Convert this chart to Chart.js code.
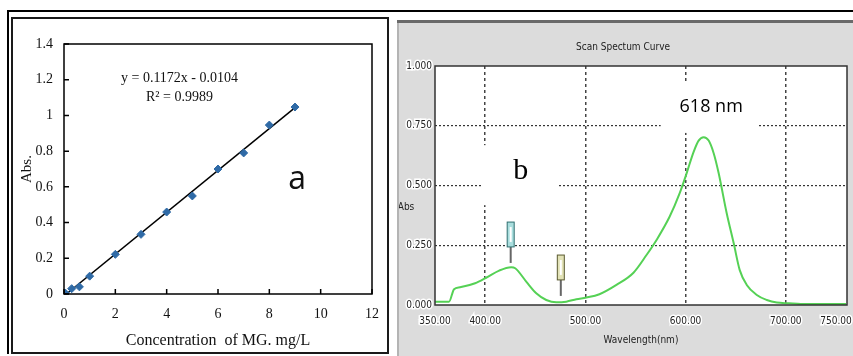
<!DOCTYPE html>
<html>
<head>
<meta charset="utf-8">
<script src="https://cdn.jsdelivr.net/npm/chart.js@4.4.1/dist/chart.umd.min.js"></script>
<style>
  body { margin: 0; width: 853px; height: 356px; background: #fff; position: relative; overflow: hidden; }
  .ln { position: absolute; }
  canvas { position: absolute; }
</style>
</head>
<body>
<div class="ln" style="left:7px;top:10px;width:846px;height:2px;background:#000"></div>
<div class="ln" style="left:7px;top:10px;width:2px;height:344px;background:#000"></div>
<div class="ln" style="left:11px;top:17px;width:378px;height:337px;border:2px solid #1a1a1a;box-sizing:border-box"></div>
<div class="ln" style="left:397px;top:20px;width:2px;height:336px;background:#b4b4b4"></div>
<div class="ln" style="left:397px;top:20px;width:456px;height:3px;background:#6a6a6a"></div>
<canvas id="calChart" width="374" height="333" style="left:13px;top:19px"></canvas>
<canvas id="scanChart" width="454" height="333" style="left:399px;top:23px;background:#dcdcdc"></canvas>
<script>
  // (a) calibration curve
  const concValues = [0, 0.05, 0.3, 0.6, 1, 2, 3, 4, 5, 6, 7, 8, 9];
  const absValues = [0, 0.005, 0.03, 0.04, 0.10, 0.222, 0.334, 0.459, 0.549, 0.70, 0.79, 0.946, 1.047];
  const trendX = [0.09, 9];
  const trendY = [0, 1.044];
  const equationText = "y = 0.1172x - 0.0104";
  const r2Text = "R\u00b2 = 0.9989";

  // (b) scan spectrum
  const waveNm = [350, 364, 369, 375, 390, 401, 414, 426, 430, 441, 451, 461, 471, 481, 491, 501,
    514, 531, 548, 561, 571, 584, 594, 601, 608, 613, 618, 623, 628, 633, 641, 648, 654, 661, 671,
    681, 691, 703, 715, 760];
  const scanAbs = [0.014, 0.014, 0.066, 0.074, 0.091, 0.114, 0.144, 0.158, 0.154, 0.098, 0.049,
    0.021, 0.011, 0.014, 0.024, 0.031, 0.045, 0.084, 0.135, 0.209, 0.272, 0.369, 0.467, 0.551,
    0.641, 0.688, 0.702, 0.688, 0.635, 0.551, 0.384, 0.258, 0.146, 0.084, 0.042, 0.021, 0.010,
    0.007, 0.004, 0.004];
  const waveTicks = [350, 400, 500, 600, 700, 750];
  const peakMarkers = [
    { nm: 425.5, top: 0.347, bottom: 0.243, end: 0.176, fill: "#a9dede", edge: "#2f6f70" },
    { nm: 475.5, top: 0.209, bottom: 0.105, end: 0.038, fill: "#e2e2b6", edge: "#5a5a30" }
  ];

  const serif = "'Liberation Serif', 'Times New Roman', serif";
  const narrow = "'Liberation Sans Narrow', 'DejaVu Sans Condensed', sans-serif";

  // keep the plot area where the layout padding puts it
  const noEdgePad = s => { s.paddingLeft = 0; s.paddingRight = 0; s.paddingTop = 0; s.paddingBottom = 0; };

  const calPlugin = {
    id: "calPlugin",
    afterDraw(chart) {
      const { ctx, chartArea: a, scales: { x, y } } = chart;
      ctx.save();
      ctx.strokeStyle = "#000";
      ctx.lineWidth = 1.5;
      ctx.strokeRect(a.left, a.top, a.right - a.left, a.bottom - a.top);
      ctx.beginPath();
      x.ticks.forEach(t => {
        const px = x.getPixelForValue(t.value);
        ctx.moveTo(px, a.bottom); ctx.lineTo(px, a.bottom - 5);
      });
      y.ticks.forEach(t => {
        const py = y.getPixelForValue(t.value);
        ctx.moveTo(a.left, py); ctx.lineTo(a.left + 5, py);
      });
      ctx.stroke();
      ctx.fillStyle = "#111";
      ctx.textAlign = "center";
      ctx.textBaseline = "middle";
      ctx.font = "14px " + serif;
      ctx.fillText(equationText, x.getPixelForValue(4.5), y.getPixelForValue(1.21));
      ctx.fillText(r2Text, x.getPixelForValue(4.5), y.getPixelForValue(1.103));
      ctx.font = "32px 'Open Sans', sans-serif";
      ctx.fillText("a", x.getPixelForValue(9.08), y.getPixelForValue(0.64));
      ctx.restore();
    }
  };

  new Chart(document.getElementById("calChart"), {
    type: "scatter",
    data: {
      datasets: [
        {
          data: concValues.map((c, i) => ({ x: c, y: absValues[i] })),
          pointStyle: "rectRot",
          pointRadius: 4,
          backgroundColor: "#2f6aa6",
          borderColor: "#2f6aa6"
        },
        {
          type: "line",
          data: trendX.map((c, i) => ({ x: c, y: trendY[i] })),
          borderColor: "#000",
          borderWidth: 1.5,
          pointRadius: 0
        }
      ]
    },
    options: {
      responsive: false,
      animation: false,
      layout: { padding: { top: 25, right: 15, left: 0, bottom: 0 } },
      plugins: { legend: { display: false }, tooltip: { enabled: false } },
      scales: {
        x: {
          min: 0, max: 12,
          ticks: { stepSize: 2, padding: 12, color: "#111", font: { family: serif, size: 14 } },
          grid: { display: false, drawTicks: false },
          border: { display: false },
          title: { display: true, text: "Concentration  of MG. mg/L", color: "#111",
            font: { family: serif, size: 16 }, padding: { top: 0, bottom: 2 } },
          afterFit: s => { s.height = 58; noEdgePad(s); }
        },
        y: {
          min: 0, max: 1.4,
          ticks: { stepSize: 0.2, padding: 11, color: "#111", font: { family: serif, size: 14 },
            callback: v => String(Number(v.toFixed(1))) },
          grid: { display: false, drawTicks: false },
          border: { display: false },
          title: { display: true, text: "Abs.", color: "#111",
            font: { family: serif, size: 15 }, padding: { top: 5, bottom: 0 } },
          afterFit: s => { s.width = 51; noEdgePad(s); }
        }
      }
    },
    plugins: [calPlugin]
  });

  const scanPlugin = {
    id: "scanPlugin",
    beforeDraw(chart) {
      const { ctx, chartArea: a } = chart;
      ctx.save();
      ctx.fillStyle = "#fff";
      ctx.fillRect(a.left, a.top, a.right - a.left, a.bottom - a.top);
      ctx.restore();
    },
    beforeDatasetsDraw(chart) {
      const { ctx, scales: { x, y } } = chart;
      ctx.save();
      ctx.fillStyle = "#fff";
      let cx = x.getPixelForValue(435.5), cy = y.getPixelForValue(0.56);
      ctx.fillRect(cx - 38, cy - 26, 76, 60);
      cx = x.getPixelForValue(623); cy = y.getPixelForValue(0.833);
      ctx.fillRect(cx - 48, cy - 24, 97, 51);
      ctx.restore();
    },
    afterDatasetsDraw(chart) {
      const { ctx, chartArea: a, scales: { x, y } } = chart;
      ctx.save();
      peakMarkers.forEach(m => {
        const px = x.getPixelForValue(m.nm);
        const t = y.getPixelForValue(m.top), b = y.getPixelForValue(m.bottom), e = y.getPixelForValue(m.end);
        ctx.strokeStyle = "#666";
        ctx.lineWidth = 2;
        ctx.beginPath(); ctx.moveTo(px, b); ctx.lineTo(px, e); ctx.stroke();
        ctx.fillStyle = m.fill;
        ctx.fillRect(px - 3.5, t, 7, b - t);
        ctx.strokeStyle = m.edge;
        ctx.lineWidth = 1;
        ctx.strokeRect(px - 3.5, t, 7, b - t);
        ctx.fillStyle = "#fff";
        ctx.fillRect(px - 1, t + 5, 2, b - t - 10);
      });
      ctx.strokeStyle = "#333";
      ctx.lineWidth = 1.5;
      ctx.strokeRect(a.left, a.top, a.right - a.left, a.bottom - a.top);
      ctx.fillStyle = "#000";
      ctx.textAlign = "center";
      ctx.textBaseline = "middle";
      ctx.font = "30px " + serif;
      ctx.fillText("b", x.getPixelForValue(435.5), y.getPixelForValue(0.56));
      ctx.font = "18px 'Open Sans', sans-serif";
      ctx.fillText("618 nm", x.getPixelForValue(625.5), y.getPixelForValue(0.83));
      ctx.font = "10px " + narrow;
      ctx.fillStyle = "#222";
      ctx.fillText("Abs", 7, y.getPixelForValue(0.41));
      ctx.restore();
    }
  };

  new Chart(document.getElementById("scanChart"), {
    type: "line",
    data: {
      datasets: [{
        data: waveNm.map((w, i) => ({ x: w, y: scanAbs[i] })),
        borderColor: "#55d155",
        borderWidth: 2,
        pointRadius: 0,
        cubicInterpolationMode: "monotone"
      }]
    },
    options: {
      responsive: false,
      animation: false,
      layout: { padding: { top: 18, right: 6, left: 0, bottom: 0 } },
      plugins: {
        legend: { display: false },
        tooltip: { enabled: false },
        title: { display: true, text: "Scan Spectum Curve", color: "#222",
          font: { family: narrow, size: 10, weight: "normal", lineHeight: 1.2 },
          padding: { top: 0, bottom: 13 } }
      },
      scales: {
        x: {
          type: "linear",
          min: 350, max: 761,
          afterBuildTicks: s => { s.ticks = waveTicks.map(v => ({ value: v })); },
          ticks: {
            padding: 10, color: "#222", textStrokeColor: "#fff", textStrokeWidth: 3,
            font: { family: narrow, size: 10 },
            callback: v => Number(v).toFixed(2)
          },
          grid: {
            drawTicks: false,
            color: c => [400, 500, 600, 700].includes(c.tick && c.tick.value) ? "#444" : "rgba(0,0,0,0)",
            lineWidth: 1.5
          },
          border: { display: false, dash: [3, 3] },
          title: { display: true, text: "Wavelength(nm)", color: "#222",
            font: { family: narrow, size: 10 }, padding: { top: 0, bottom: 10 } },
          afterFit: s => { s.height = 51; noEdgePad(s); }
        },
        y: {
          min: 0, max: 1,
          ticks: {
            stepSize: 0.25, padding: 3, color: "#222", textStrokeColor: "#fff", textStrokeWidth: 3,
            font: { family: narrow, size: 10 },
            callback: v => Number(v).toFixed(3)
          },
          grid: {
            drawTicks: false,
            color: c => (c.tick && c.tick.value > 0 && c.tick.value < 1) ? "#333" : "rgba(0,0,0,0)",
            lineWidth: 1.2
          },
          border: { display: false, dash: [2, 2] },
          afterFit: s => { s.width = 36; noEdgePad(s); }
        }
      }
    },
    plugins: [scanPlugin]
  });
</script>
</body>
</html>
